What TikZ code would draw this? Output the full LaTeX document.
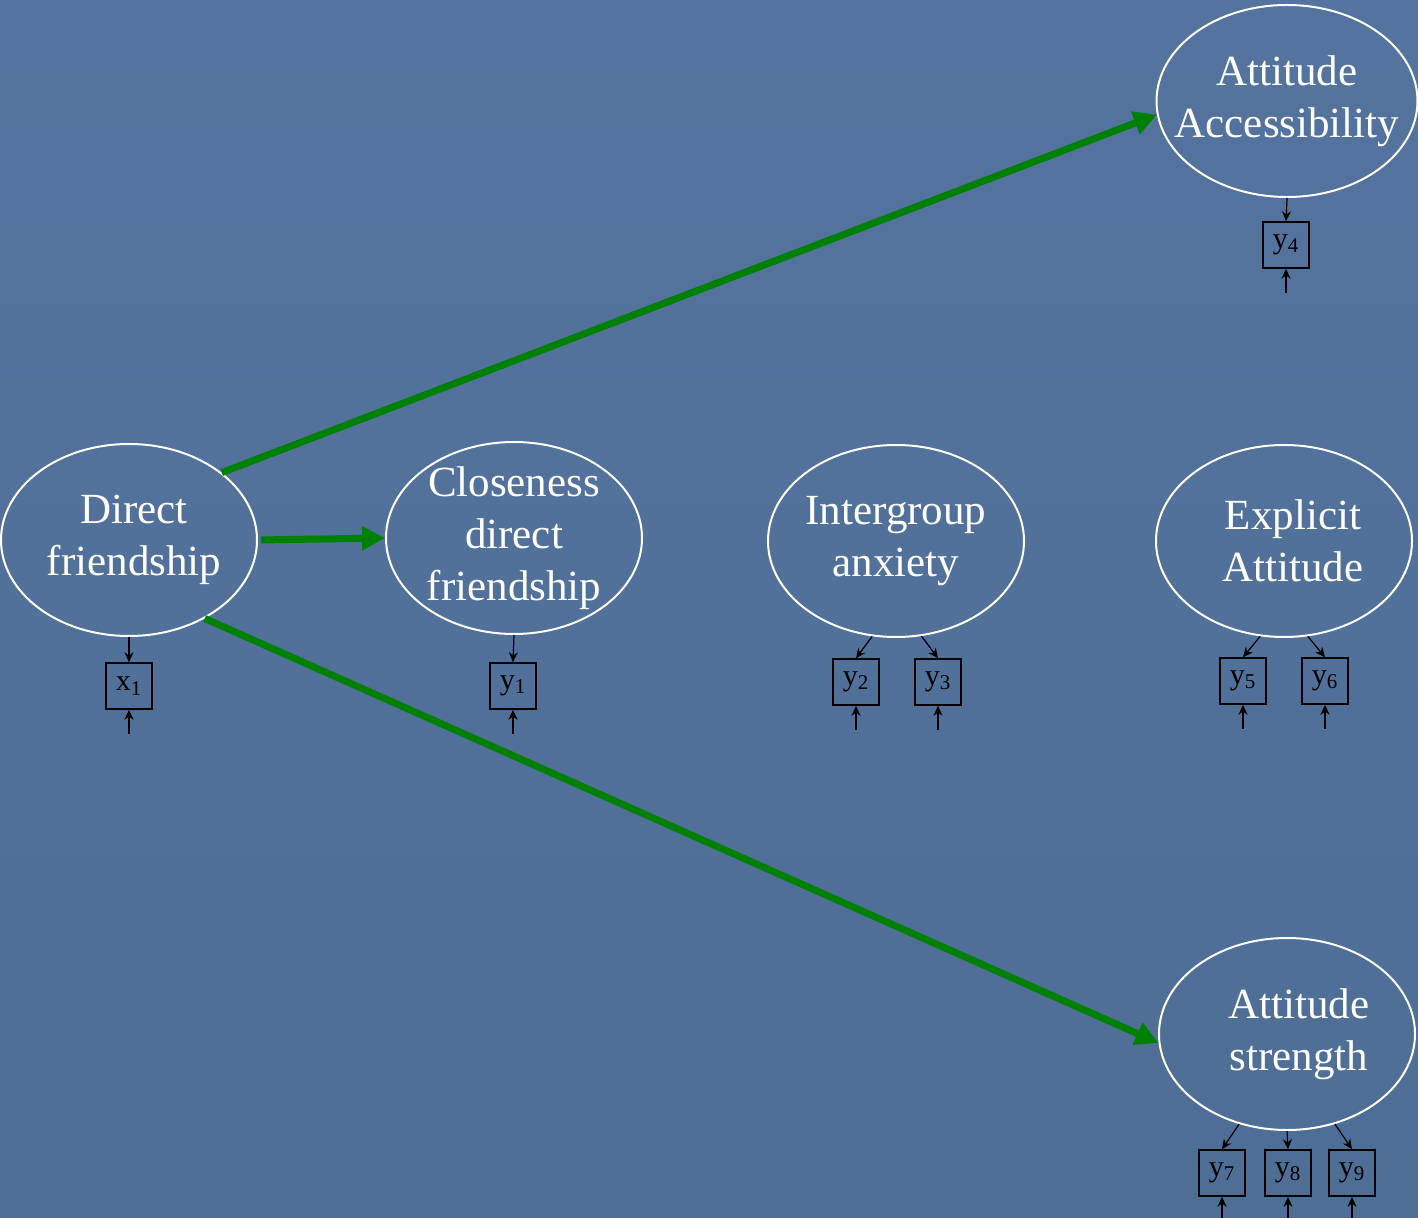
\documentclass[tikz,border=0pt]{standalone}
\usepackage{fontspec}
\setmainfont{Liberation Serif}
\usepackage{xcolor}
\usepackage{tikz}
\usetikzlibrary{shapes.geometric,arrows.meta}

\definecolor{slidetop}{RGB}{84,115,158}
\definecolor{slidemid}{RGB}{94,125,166}
\definecolor{slidebot}{RGB}{78,110,150}
\definecolor{pathgreen}{RGB}{0,128,0}

\begin{document}
\begin{tikzpicture}[x=0.5pt, y=-0.5pt,
  latent/.style={ellipse, draw=white, line width=1pt, minimum width=128pt,
                 minimum height=96pt, inner sep=-10pt, text=white, align=center,
                 font=\fontsize{21.5}{26}\selectfont},
  ind/.style={rectangle, draw=black, line width=0.75pt, minimum size=23pt,
              inner sep=0pt, font=\fontsize{15}{16}\selectfont},
  effect/.style={draw=pathgreen, line width=3.5pt,
                 -{Triangle[length=11.5pt,width=11.5pt]}},
  load/.style={draw=black, line width=0.6pt, -{Stealth[length=5pt,width=4.5pt]}}]

% background
\useasboundingbox (0,0) rectangle (1418,1218);
\shade[top color=slidetop, middle color=slidemid, bottom color=slidebot]
  (0,0) rectangle (1418,1218);

% latent variables
\node[latent] (df) at (129,540)  {\hspace*{5pt}Direct\\\hspace*{5pt}friendship};
\node[latent] (cl) at (514,538)  {Closeness\\direct\\friendship};
\node[latent] (ia) at (896,541)  {Intergroup\\anxiety};
\node[latent] (ea) at (1284,541) {\hspace*{9pt}Explicit\\\hspace*{9pt}Attitude};
\node[latent] (aa) at (1287,101) {Attitude\\Accessibility};
\node[latent] (as) at (1287,1034) {\hspace*{12pt}Attitude\\\hspace*{12pt}strength};

% indicators
\node[ind] (x1) at (129,686)  {x\textsubscript{1}};
\node[ind] (y1) at (513,686)  {y\textsubscript{1}};
\node[ind] (y2) at (856,682)  {y\textsubscript{2}};
\node[ind] (y3) at (938,682)  {y\textsubscript{3}};
\node[ind] (y4) at (1286,245) {y\textsubscript{4}};
\node[ind] (y5) at (1243,681) {y\textsubscript{5}};
\node[ind] (y6) at (1325,681) {y\textsubscript{6}};
\node[ind] (y7) at (1222,1173) {y\textsubscript{7}};
\node[ind] (y8) at (1288,1173) {y\textsubscript{8}};
\node[ind] (y9) at (1352,1173) {y\textsubscript{9}};

% structural paths
\draw[effect] (df.36) -- (aa.186);
\draw[effect, shorten <=1.5pt] (df.east) -- (cl.west);
\draw[effect] (df.-46) -- (as.184);

% loadings
\draw[load] (df.south) -- (x1.north);
\draw[load] (cl.south) -- (y1.north);
\draw[load] (ia.-104) -- (y2.north);
\draw[load] (ia.-75)  -- (y3.north);
\draw[load] (aa.south) -- (y4.north);
\draw[load] (ea.-104) -- (y5.north);
\draw[load] (ea.-76)  -- (y6.north);
\draw[load] (as.-118) -- (y7.north);
\draw[load] (as.south) -- (y8.north);
\draw[load] (as.-62)  -- (y9.north);

% error terms
\foreach \b in {x1,y1,y2,y3,y4,y5,y6,y7,y8,y9}{
  \coordinate (e\b) at ([yshift=-12pt]\b.south);
  \draw[load] (e\b) -- (\b.south);
}
\end{tikzpicture}
\end{document}
